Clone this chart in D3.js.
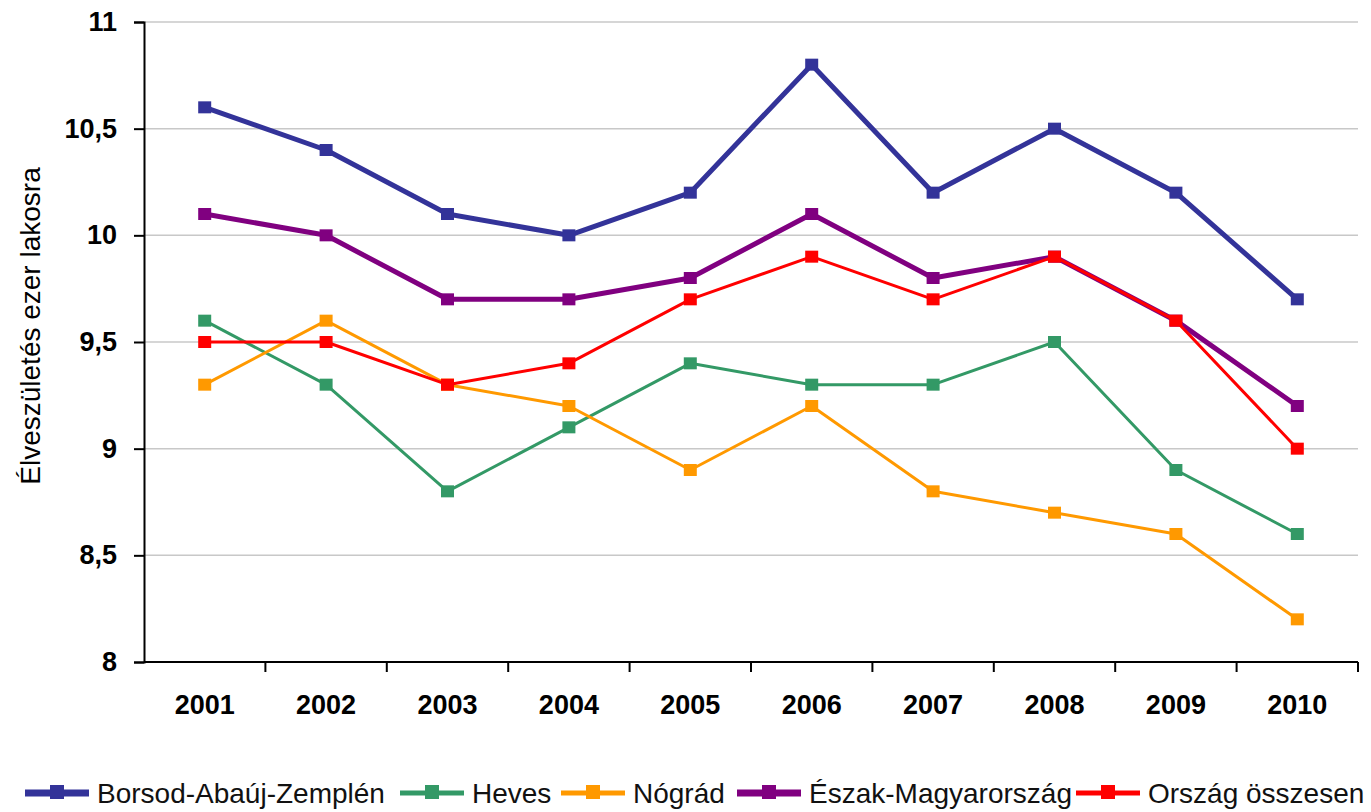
<!DOCTYPE html>
<html>
<head>
<meta charset="utf-8">
<script src="https://cdn.jsdelivr.net/npm/d3@7"></script>
<style>
  body { margin: 0; background: #fff; }
  svg { font-family: Arial, "Liberation Sans", sans-serif; }
</style>
</head>
<body>
<div id="chart"></div>
<script>
// adatok
const years = ['2001', '2002', '2003', '2004', '2005', '2006', '2007', '2008', '2009', '2010'];
const borsod = [10.6, 10.4, 10.1, 10.0, 10.2, 10.8, 10.2, 10.5, 10.2, 9.7];
const heves = [9.6, 9.3, 8.8, 9.1, 9.4, 9.3, 9.3, 9.5, 8.9, 8.6];
const nograd = [9.3, 9.6, 9.3, 9.2, 8.9, 9.2, 8.8, 8.7, 8.6, 8.2];
const eszak = [10.1, 10.0, 9.7, 9.7, 9.8, 10.1, 9.8, 9.9, 9.6, 9.2];
const orszag = [9.5, 9.5, 9.3, 9.4, 9.7, 9.9, 9.7, 9.9, 9.6, 9.0];
const yTicks = [8, 8.5, 9, 9.5, 10, 10.5, 11];

const series = [
    { name: 'Borsod-Abaúj-Zemplén', values: borsod, color: '#333399', width: 5 },
    { name: 'Heves', values: heves, color: '#339966', width: 3 },
    { name: 'Nógrád', values: nograd, color: '#ff9900', width: 3 },
    { name: 'Észak-Magyarország', values: eszak, color: '#800080', width: 5 },
    { name: 'Ország összesen', values: orszag, color: '#ff0000', width: 3 }
];

const width = 1371;
const height = 812;
const plotLeft = 144, plotRight = 1358, plotTop = 22, plotBottom = 662;

const svg = d3.select('#chart')
    .append('svg')
    .attr('width', width)
    .attr('height', height);

const x = d3.scaleBand().domain(years).range([plotLeft, plotRight]);
const y = d3.scaleLinear().domain([8, 11]).range([plotBottom, plotTop]);

// rácsvonalak
svg.append('g')
    .selectAll('line')
    .data(yTicks.slice(1))
    .enter()
    .append('line')
    .attr('x1', plotLeft)
    .attr('x2', plotRight)
    .attr('y1', d => y(d))
    .attr('y2', d => y(d))
    .attr('stroke', '#c8c8c8')
    .attr('stroke-width', 1.5);

const fmt = d => String(d).replace('.', ',');

// y tengely
const yAxis = svg.append('g')
    .attr('transform', `translate(${plotLeft},0)`)
    .call(d3.axisLeft(y).tickValues(yTicks).tickFormat(fmt).tickSize(10).tickPadding(17));
yAxis.select('.domain').attr('stroke', '#000').attr('stroke-width', 2);
yAxis.selectAll('.tick line').attr('stroke', '#000').attr('stroke-width', 2);
yAxis.selectAll('text')
    .attr('font-size', '27px')
    .attr('font-weight', 'bold')
    .attr('fill', '#000')
    .attr('font-family', 'Arial, "Liberation Sans", sans-serif');

// x tengely
const xAxis = svg.append('g')
    .attr('transform', `translate(0,${plotBottom})`)
    .call(d3.axisBottom(x).tickSize(0).tickPadding(33));
xAxis.select('.domain').remove();
xAxis.append('line')
    .attr('x1', plotLeft).attr('x2', plotRight)
    .attr('stroke', '#000').attr('stroke-width', 2);
xAxis.selectAll('.sep')
    .data(years)
    .enter()
    .append('line')
    .attr('class', 'sep')
    .attr('x1', d => x(d) + x.bandwidth())
    .attr('x2', d => x(d) + x.bandwidth())
    .attr('y1', 0).attr('y2', 10)
    .attr('stroke', '#000').attr('stroke-width', 2);
xAxis.selectAll('text')
    .attr('font-size', '27px')
    .attr('font-weight', 'bold')
    .attr('fill', '#000')
    .attr('font-family', 'Arial, "Liberation Sans", sans-serif');

// tengelycím
svg.append('text')
    .attr('transform', `translate(40,326) rotate(-90)`)
    .attr('text-anchor', 'middle')
    .attr('font-size', '28px')
    .attr('fill', '#000')
    .text('Élveszületés ezer lakosra');

// vonalak
const line = d3.line()
    .x((d, i) => x(years[i]) + x.bandwidth() / 2)
    .y(d => y(d));

series.forEach(s => {
    const g = svg.append('g');
    g.append('path')
        .datum(s.values)
        .attr('d', line)
        .attr('fill', 'none')
        .attr('stroke', s.color)
        .attr('stroke-width', s.width)
        .attr('stroke-linejoin', 'round');
    g.selectAll('rect')
        .data(s.values)
        .enter()
        .append('rect')
        .attr('x', (d, i) => x(years[i]) + x.bandwidth() / 2 - 6.5)
        .attr('y', d => y(d) - 6)
        .attr('width', 13)
        .attr('height', 12)
        .attr('fill', s.color);
});

// jelmagyarázat
const legendX = [25, 400, 561, 737, 1076];
const legend = svg.append('g');
series.forEach((s, i) => {
    const g = legend.append('g').attr('transform', `translate(${legendX[i]},793)`);
    g.append('line')
        .attr('x1', 0).attr('x2', 64)
        .attr('y1', 0).attr('y2', 0)
        .attr('stroke', s.color)
        .attr('stroke-width', s.width === 5 ? 7 : 5);
    g.append('rect')
        .attr('x', 25).attr('y', -8)
        .attr('width', 14).attr('height', 14)
        .attr('fill', s.color);
    g.append('text')
        .attr('x', 72)
        .attr('y', 10)
        .attr('font-size', '28px')
        .attr('fill', '#111')
        .text(s.name);
});
</script>
</body>
</html>
